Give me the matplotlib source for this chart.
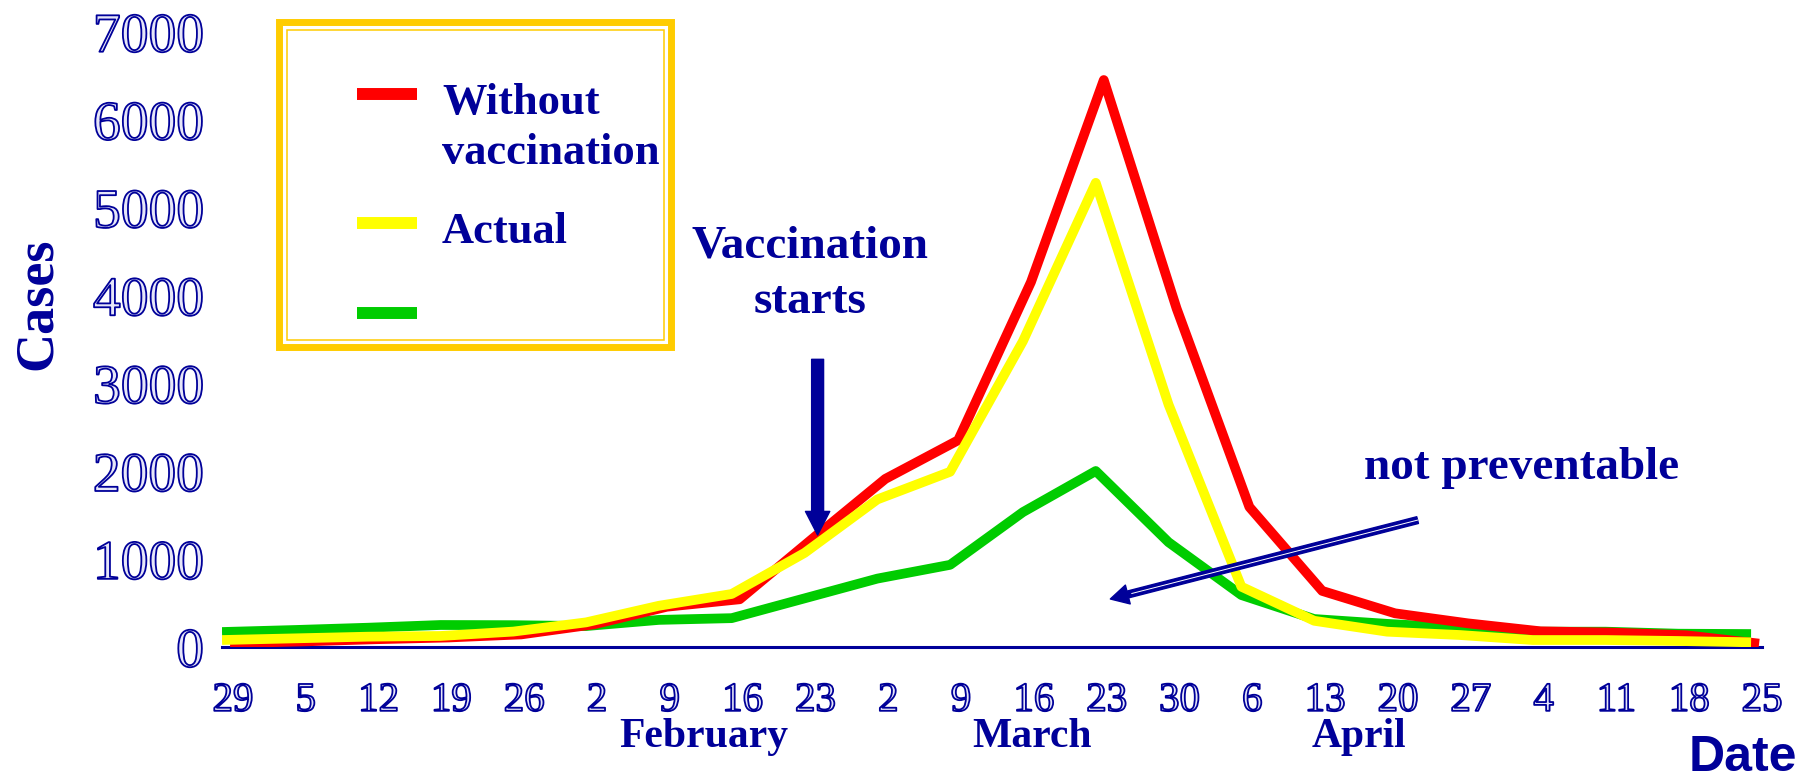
import matplotlib
matplotlib.use("Agg")
import matplotlib.pyplot as plt
import matplotlib.patheffects as pe
from matplotlib.patches import Rectangle
from matplotlib.lines import Line2D
import numpy as np

# weekly dates (Dec 29 ... May 25)
dates = ["29", "5", "12", "19", "26", "2", "9", "16", "23", "2", "9", "16",
         "23", "30", "6", "13", "20", "27", "4", "11", "18", "25"]
without_vacc = [40, 60, 85, 105, 140, 255, 455, 540, 1230, 1910, 2350, 4150,
                6450, 3850, 1590, 635, 380, 266, 175, 160, 130, 35]
actual = [76, 95, 114, 122, 172, 277, 466, 600, 1067, 1676, 1991, 3478,
          5280, 2756, 683, 295, 171, 133, 76, 76, 65, 50]
not_prev = [167, 190, 216, 247, 245, 235, 305, 325, 550, 775, 932, 1532,
            2000, 1189, 588, 315, 260, 215, 171, 171, 148, 144]
series_labels = ["Without\nvaccination", "Actual", ""]
series_colors = ["#FF0000", "#FFFF00", "#00CC00"]
months = ["February", "March", "April"]
month_idx = [(5, 8), (9, 13), (14, 17)]
yticks = [0, 1000, 2000, 3000, 4000, 5000, 6000, 7000]

NAVY = "#000099"
GOLD = "#FFCC00"
W, H = 1818, 780

def fx(px):
    return px / W

def fy(py):
    return 1 - py / H

fig = plt.figure(figsize=(W / 100, H / 100), dpi=100)
ax = fig.add_axes([fx(222), fy(646.7), fx(1762) - fx(222), (646.7 - 31.7) / H])

x = np.arange(len(dates))
series = [without_vacc, actual, not_prev]
shifts = [0.11, 0, 0]   # the red curve sits a little to the right in the original
zs = [3, 4, 2]
for vals, col, dx, z in zip(series, series_colors, shifts, zs):
    ax.plot(x + dx, vals, color=col, lw=7, zorder=z,
            solid_capstyle="butt", solid_joinstyle="round")

ax.set_xlim(0, 21.1)
ax.set_ylim(0, 7000)

for s in ["left", "top", "right"]:
    ax.spines[s].set_visible(False)
ax.spines["bottom"].set_color(NAVY)
ax.spines["bottom"].set_linewidth(2.2)

# tick numbers: light core with navy outline, like the embossed original
outline = [pe.Stroke(linewidth=1.3, foreground=NAVY)]
ax.set_yticks(yticks)
ax.set_yticklabels([str(v) for v in yticks], fontsize=40,
                   family="Liberation Serif", color="#E6E6F8")
ax.set_xticks(x + 0.15)
ax.set_xticklabels(dates, fontsize=29.5, family="Liberation Serif",
                   color="#E6E6F8")
for t in ax.get_xticklabels() + ax.get_yticklabels():
    t.set_path_effects(outline)
ax.tick_params(axis="y", length=0, pad=13)
ax.tick_params(axis="x", length=0, pad=26)

# month labels under the date ticks
for name, (a, b) in zip(months, month_idx):
    ax.text((a + b) / 2 + 0.12, -0.163, name, transform=ax.get_xaxis_transform(),
            ha="center", va="baseline", fontsize=30, fontweight="bold",
            family="Liberation Serif", color=NAVY)

fig.text(fx(38), fy(304), "Cases", rotation=90, ha="center", va="center",
         fontsize=39, fontweight="bold", family="Liberation Serif", color=NAVY)
fig.text(fx(1797), fy(771), "Date", ha="right", va="baseline", fontsize=36,
         fontweight="bold", family="Liberation Sans", color=NAVY)

# vaccination start arrow
ax.annotate("", xy=(8.18, 1271), xytext=(8.18, 3271),
            arrowprops=dict(color=NAVY, width=8.6, headwidth=17.5,
                            headlength=17, shrink=0), zorder=6)
for k, line in enumerate(["Vaccination", "starts"]):
    fig.text(fx(810), fy(257 + 56 * k), line, ha="center", va="baseline",
             fontsize=34, fontweight="bold", family="Liberation Serif",
             color=NAVY)

# not preventable arrow
tail = (16.42, 1441)
tip = (12.2, 543)
ax.annotate("", xy=tip, xytext=tail,
            arrowprops=dict(color=NAVY, width=5, headwidth=14,
                            headlength=13, shrink=0), zorder=6)
ax.plot([tail[0], tip[0] + 0.07 * (tail[0] - tip[0])],
        [tail[1], tip[1] + 0.07 * (tail[1] - tip[1])],
        color="white", lw=0.7, zorder=7)
fig.text(fx(1522), fy(479), "not preventable", ha="center", va="baseline",
         fontsize=34, fontweight="bold", family="Liberation Serif", color=NAVY)

# legend box with double gold border
fig.add_artist(Rectangle((fx(278.5), fy(346.5)), fx(671) - fx(278.5),
                         (346.5 - 22.5) / H, transform=fig.transFigure,
                         fill=False, edgecolor=GOLD, lw=5))
fig.add_artist(Rectangle((fx(286.5), fy(339.5)), fx(664) - fx(286.5),
                         (339.5 - 29.5) / H, transform=fig.transFigure,
                         fill=False, edgecolor=GOLD, lw=1.1))
row_y = [94, 223, 313]
for lab, col, yb in zip(series_labels, series_colors, row_y):
    fig.add_artist(Line2D([fx(357), fx(417)], [fy(yb), fy(yb)], color=col,
                          lw=8.6, solid_capstyle="butt"))
    for k, line in enumerate(lab.split("\n")):
        if line:
            fig.text(fx(442), fy(yb + 20 + 50 * k), line, ha="left",
                     va="baseline", fontsize=32, fontweight="bold",
                     family="Liberation Serif", color=NAVY)

fig.savefig("out.png", dpi=100)
